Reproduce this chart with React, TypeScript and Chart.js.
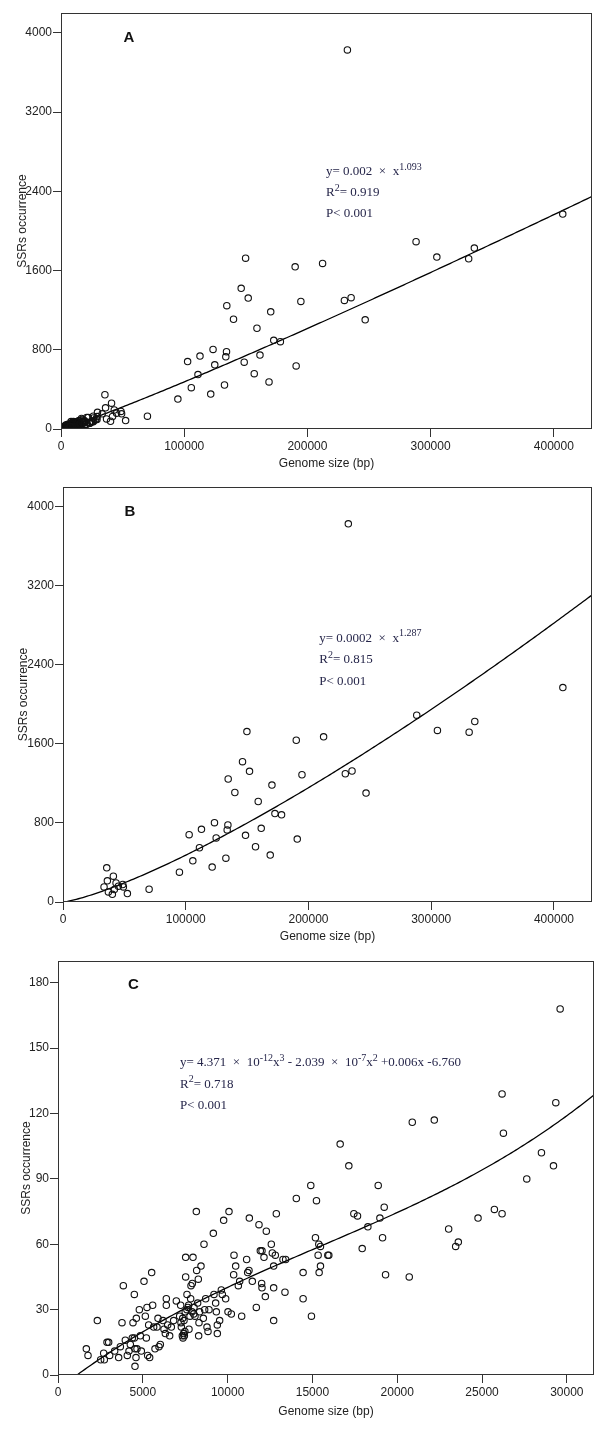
import React, { useEffect, useRef } from "react";
import { Chart, registerables } from "chart.js";
Chart.register(...registerables);

// ---------- Data ----------
// Panel C: small genomes (bp) and their SSR counts
const cSize = [
  1670, 1769, 2319, 2515, 2692, 2731, 2889, 2987, 3046, 3340, 3576, 3675, 3773, 3851, 3969, 4087, 4186, 4264,
  4382, 4421, 4500, 4539, 4539, 4598, 4500, 4618, 4657, 4795, 4854, 4913, 5070, 5149, 5208, 5247, 5286, 5404,
  5345, 5522, 5581, 5640, 5719, 5895, 5836, 5954, 6033, 6190, 6249, 6327, 6386, 6386, 6465, 6583, 6681, 6819,
  6976, 7172, 7231, 7271, 7330, 7369, 7408, 7428, 7526, 7526, 7605, 7664, 7723, 7782, 7821, 7841, 7959, 7919,
  8017, 8076, 8175, 8155, 8233, 8272, 8292, 8312, 8430, 8351, 8568, 8607, 8646, 8705, 8784, 8843, 8902, 9157,
  9196, 9294, 9334, 9393, 9393, 9530, 9629, 9688, 9766, 9884, 10022, 10081, 10218, 10376, 10474, 10356, 10632,
  10710, 10828, 11122, 11181, 11260, 11280, 11456, 11692, 11849, 11928, 12026, 12006, 12026, 12144, 12223,
  12281, 12576, 12635, 12714, 12714, 12714, 12812, 12871, 13263, 13420, 13381, 14050, 14450, 14450, 14903,
  14942, 15238, 15178, 15375, 15474, 15336, 15907, 15966, 15474, 15395, 16635, 17146, 17442, 17658, 17934,
  18268, 18878, 18977, 19232, 19134, 19311, 20708, 20886, 22184, 23031, 23444, 23601, 24763, 25727, 26180,
  26180, 26259, 27636, 28502, 29211, 29348, 29604,
  7450, 7480, 7500, 7600, 7700, 7900, 8000, 7350, 7250,
];
const cSSR = [
  12, 9, 25, 7, 10, 7, 15, 15, 9, 11, 8, 13, 24, 41, 16, 9, 11, 14,
  17, 24, 37, 12, 4, 8, 17, 26, 12, 30, 18, 11, 43, 27, 17, 31, 9, 8,
  23, 47, 32, 22, 12, 26, 22, 13, 14, 25, 21, 19, 35, 32, 23, 18, 22, 25,
  34, 27, 32, 22, 18, 17, 19, 25, 45, 54, 37, 31, 21, 27, 35, 41, 54, 42,
  31, 27, 48, 75, 33, 44, 18, 24, 50, 29, 26, 60, 30, 35, 22, 20, 30, 65,
  37, 33, 29, 23, 19, 25, 39, 37, 71, 35, 29, 75, 28, 55, 50, 46, 41,
  43, 27, 53, 47, 48, 72, 43, 31, 69, 57, 57, 42, 40, 54, 36,
  66, 60, 56, 50, 40, 25, 55, 74, 53, 53, 38, 81, 47, 35, 87,
  27, 80, 63, 60, 59, 55, 55, 55, 50, 47, 106, 96, 74, 73, 58,
  68, 87, 72, 77, 63, 46, 45, 116, 117, 67, 59, 61, 72, 76, 74,
  129, 111, 90, 102, 96, 125, 168,
  18, 20, 29, 30, 32, 29, 28, 26, 24,
];

// Panel B: large genomes (bp) and their SSR counts
const bSize = [
  33440, 35640, 36150, 36970, 40210, 41030, 41840, 43230, 45100, 48690, 49190, 52450, 70150, 94860, 102770,
  105770, 111180, 112810, 121530, 123410, 124800, 132700, 133770, 134340, 134580, 140020, 146250, 149840,
  148700, 151960, 156850, 159050, 161500, 168840, 170230, 172670, 178060, 190050, 190860, 194700, 212320,
  230020, 235480, 232460, 246900, 288200, 305060, 330900, 335500, 407260,
];
const bSSR = [
  153, 346, 214, 102, 78, 261, 126, 193, 160, 177, 153, 85, 129, 302, 681,
  417, 549, 736, 353, 803, 648, 444, 729, 780, 1245, 1108, 1420, 1725,
  675, 1322, 559, 1017, 746, 475, 1183, 895, 882, 1637, 637, 1288, 1672,
  1298, 1326, 3827, 1102, 1891, 1736, 1719, 1827, 2170,
];

// Panel A: all genomes
const aSize = [...cSize, ...bSize];
const aSSR = [...cSSR, ...bSSR];

// Tick labels
const bigXTicks = [0, 100000, 200000, 300000, 400000];
const bigYTicks = [0, 800, 1600, 2400, 3200, 4000];
const smallXTicks = [0, 5000, 10000, 15000, 20000, 25000, 30000];
const smallYTicks = [0, 30, 60, 90, 120, 150, 180];

// Fitted curves (as drawn in the reference)
const fitA = { a: 0.00163, b: 1.093 };
const fitB = { a: 0.0001741, b: 1.287 };
const fitC = [3.758e-12, -1.75e-7, 0.006053, -6.565];

const TICK_FONT = { family: "'Liberation Sans', Arial, sans-serif", size: 12 };
const TEXT_COLOR = "#222";
const NOTE_COLOR = "#26264a";
const SP = "\u2002";

type Seg = { t: string; sup?: boolean };

function sample(xMax: number, f: (x: number) => number, n = 240) {
  const out: { x: number; y: number }[] = [];
  for (let i = 0; i <= n; i++) {
    const x = (xMax * i) / n;
    out.push({ x, y: f(x) });
  }
  return out;
}

type PanelProps = {
  top: number;
  height: number;
  padTop: number;
  padRight: number;
  yAxisW: number;
  xAxisH: number;
  yTitlePad: number;
  xMax: number;
  yMax: number;
  xTicks: number[];
  yTicks: number[];
  sizes: number[];
  ssrs: number[];
  curve: (x: number) => number;
  letter: string;
  letterAt: [number, number];
  noteAt: [number, number];
  noteGap: number;
  notes: Seg[][];
};

function Panel(p: PanelProps) {
  const ref = useRef<HTMLCanvasElement | null>(null);
  useEffect(() => {
    if (!ref.current) return;
    const pts = p.sizes.map((x, i) => ({ x, y: p.ssrs[i] }));
    const line = sample(p.xMax, p.curve);
    const frame = {
      id: "frame",
      afterDatasetsDraw(chart: any) {
        const { ctx, chartArea: a } = chart;
        ctx.save();
        ctx.strokeStyle = "#333";
        ctx.lineWidth = 1;
        const l = Math.round(a.left) + 0.5;
        const t = Math.round(a.top) + 0.5;
        const r = Math.round(a.right) - 0.5;
        const b = Math.round(a.bottom) - 0.5;
        ctx.strokeRect(l, t, r - l, b - t);
        ctx.restore();
      },
    };
    const text = {
      id: "notes",
      afterDraw(chart: any) {
        const { ctx } = chart;
        const sx = chart.scales.x;
        const sy = chart.scales.y;
        ctx.save();
        ctx.fillStyle = "#111";
        ctx.font = "bold 15px 'Liberation Sans', Arial, sans-serif";
        ctx.textAlign = "center";
        ctx.textBaseline = "middle";
        ctx.fillText(p.letter, sx.getPixelForValue(p.letterAt[0]), sy.getPixelForValue(p.letterAt[1]));
        ctx.textAlign = "left";
        ctx.textBaseline = "middle";
        ctx.fillStyle = NOTE_COLOR;
        const x0 = sx.getPixelForValue(p.noteAt[0]);
        const y0 = sy.getPixelForValue(p.noteAt[1]);
        p.notes.forEach((segs, li) => {
          let x = x0;
          const y = y0 + li * p.noteGap;
          segs.forEach((s) => {
            ctx.font = s.sup ? "10px 'Liberation Serif', 'Times New Roman', serif" : "13px 'Liberation Serif', 'Times New Roman', serif";
            ctx.fillText(s.t, x, s.sup ? y - 5 : y);
            x += ctx.measureText(s.t).width;
          });
        });
        ctx.restore();
      },
    };
    const axisCommon = (ticks: number[], title: string) => ({
      type: "linear" as const,
      min: 0,
      afterBuildTicks: (s: any) => {
        s.ticks = ticks.map((v) => ({ value: v }));
      },
      grid: { drawOnChartArea: false, drawTicks: true, tickLength: 8, color: "#333", lineWidth: 1 },
      border: { display: false },
      ticks: {
        font: TICK_FONT,
        color: TEXT_COLOR,
        padding: 1,
        maxRotation: 0,
        autoSkip: false,
        callback: (v: any) => String(v),
      },
      title: { display: true, text: title, font: TICK_FONT, color: TEXT_COLOR },
    });
    const xAxis: any = axisCommon(p.xTicks, "Genome size (bp)");
    xAxis.max = p.xMax;
    xAxis.ticks.padding = 2;
    xAxis.title.padding = { top: 0, bottom: 0 };
    xAxis.afterFit = (s: any) => {
      s.height = p.xAxisH;
    };
    const yAxis: any = axisCommon(p.yTicks, "SSRs occurrence");
    yAxis.max = p.yMax;
    yAxis.title.padding = { top: p.yTitlePad, bottom: 0 };
    yAxis.afterFit = (s: any) => {
      s.width = p.yAxisW;
    };
    const chart = new Chart(ref.current, {
      type: "scatter",
      data: {
        datasets: [
          {
            type: "line",
            data: line,
            borderColor: "#000",
            borderWidth: 1.3,
            pointRadius: 0,
            fill: false,
            tension: 0,
            order: 2,
          } as any,
          {
            type: "scatter",
            data: pts,
            pointStyle: "circle",
            pointRadius: 3.2,
            borderWidth: 1.1,
            borderColor: "#111",
            backgroundColor: "rgba(0,0,0,0)",
            order: 1,
          } as any,
        ],
      },
      options: {
        animation: false,
        responsive: false,
        maintainAspectRatio: false,
        events: [],
        layout: { padding: { left: 0, top: p.padTop, right: p.padRight, bottom: 0 } },
        plugins: { legend: { display: false }, tooltip: { enabled: false } },
        scales: { x: xAxis, y: yAxis },
      },
      plugins: [frame, text],
    });
    return () => chart.destroy();
  }, []);
  return (
    <div style={{ position: "absolute", left: 0, top: p.top, width: 600, height: p.height }}>
      <canvas ref={ref} width={600} height={p.height} style={{ display: "block", width: 600, height: p.height }} />
    </div>
  );
}

export default function App() {
  return (
    <div style={{ position: "absolute", left: 0, top: 0, width: 600, height: 1439, background: "#fff" }}>
      <Panel
        top={0}
        height={471}
        padTop={13}
        padRight={8}
        yAxisW={61}
        xAxisH={42}
        yTitlePad={15.5}
        xMax={431000}
        yMax={4200}
        xTicks={bigXTicks}
        yTicks={bigYTicks}
        sizes={aSize}
        ssrs={aSSR}
        curve={(x) => fitA.a * Math.pow(x, fitA.b)}
        letter="A"
        letterAt={[55190, 3948]}
        noteAt={[215100, 2595]}
        noteGap={21}
        notes={[
          [{ t: "y= 0.002" + SP + "×" + SP + "x" }, { t: "1.093", sup: true }],
          [{ t: "R" }, { t: "2", sup: true }, { t: "= 0.919" }],
          [{ t: "P< 0.001" }],
        ]}
      />
      <Panel
        top={472}
        height={472}
        padTop={15}
        padRight={8}
        yAxisW={63}
        xAxisH={42}
        yTitlePad={16.5}
        xMax={431000}
        yMax={4200}
        xTicks={bigXTicks}
        yTicks={bigYTicks}
        sizes={bSize}
        ssrs={bSSR}
        curve={(x) => fitB.a * Math.pow(x, fitB.b)}
        letter="B"
        letterAt={[54590, 3950]}
        noteAt={[208800, 2669]}
        noteGap={21.7}
        notes={[
          [{ t: "y= 0.0002" + SP + "×" + SP + "x" }, { t: "1.287", sup: true }],
          [{ t: "R" }, { t: "2", sup: true }, { t: "= 0.815" }],
          [{ t: "P< 0.001" }],
        ]}
      />
      <Panel
        top={944}
        height={475}
        padTop={17}
        padRight={6}
        yAxisW={58}
        xAxisH={44}
        yTitlePad={19}
        xMax={31600}
        yMax={190}
        xTicks={smallXTicks}
        yTicks={smallYTicks}
        sizes={cSize}
        ssrs={cSSR}
        curve={(x) => fitC[0] * x * x * x + fitC[1] * x * x + fitC[2] * x + fitC[3]}
        letter="C"
        letterAt={[4440, 179]}
        noteAt={[7193, 143.2]}
        noteGap={21.3}
        notes={[
          [
            { t: "y= 4.371" + SP + "×" + SP + "10" },
            { t: "-12", sup: true },
            { t: "x" },
            { t: "3", sup: true },
            { t: " - 2.039" + SP + "×" + SP + "10" },
            { t: "-7", sup: true },
            { t: "x" },
            { t: "2", sup: true },
            { t: " +0.006x -6.760" },
          ],
          [{ t: "R" }, { t: "2", sup: true }, { t: "= 0.718" }],
          [{ t: "P< 0.001" }],
        ]}
      />
    </div>
  );
}
